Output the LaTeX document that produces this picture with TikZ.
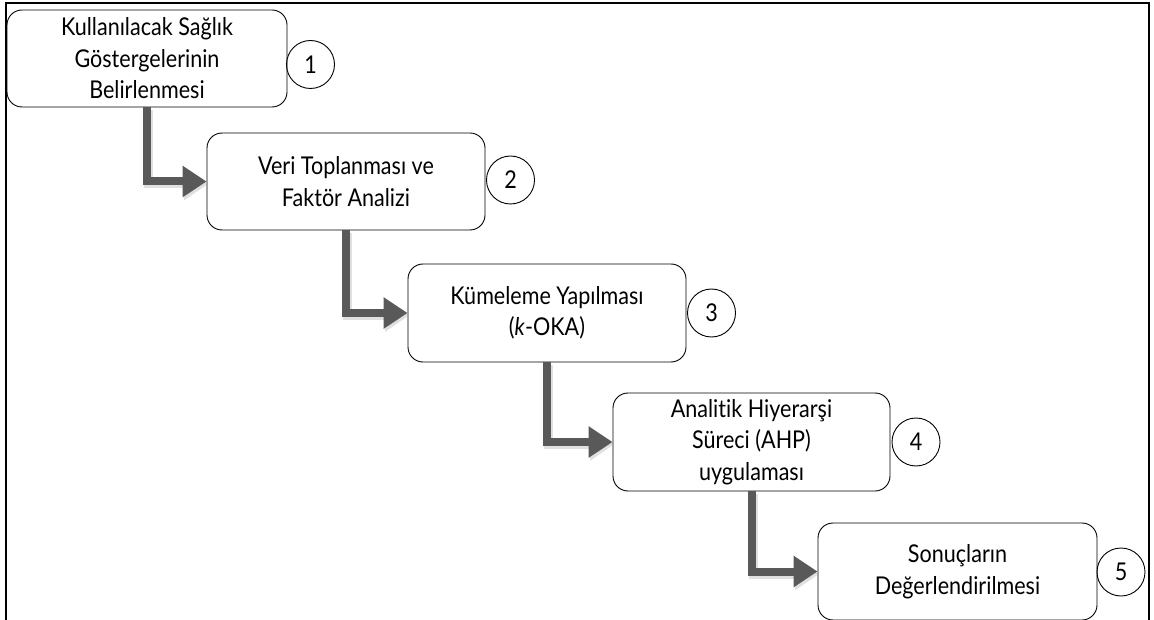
\documentclass[tikz,border=0pt]{standalone}
\usepackage{fontspec}
\setmainfont[FakeStretch=0.88,Ligatures={NoCommon}]{Lato}
\usetikzlibrary{arrows.meta}
\definecolor{arrowgray}{HTML}{595959}
\tikzset{
  stepbox/.style={draw=black, line width=0.9pt, rounded corners=15pt, fill=white,
    minimum width=278pt, minimum height=97pt, align=center, inner sep=2pt,
    font=\fontsize{24.5}{31.5}\selectfont,
    execute at begin node={\rule{0pt}{25pt}}},
  numcirc/.style={draw=black, line width=0.9pt, circle, minimum size=48pt, inner sep=0pt,
    font=\fontsize{24.5}{28}\selectfont},
  flow/.style={draw=arrowgray, line width=8pt,
    -{Triangle[length=24pt,width=30pt]}},
  flowshadow/.style={draw=black!35, opacity=0.35, line width=9pt,
    -{Triangle[length=24pt,width=31pt]}},
  frameline/.style={draw=black, line width=2pt}
}
\begin{document}
\begin{tikzpicture}[x=1pt,y=-1pt]
\useasboundingbox (0,0) rectangle (1154,620);
% frame
\coordinate (fbl) at (6,625);
\coordinate (ftl) at (6,3);
\coordinate (ftr) at (1149,3);
\coordinate (fbr) at (1149,625);
\draw[frameline] (fbl) -- (ftl) -- (ftr) -- (fbr);
% boxes
\node[stepbox, minimum width=280pt] (b1) at (147,58.5) {Kullanılacak Sağlık\\Göstergelerinin\\Belirlenmesi};
\node[stepbox] (b2) at (346,181.5) {Veri Toplanması ve\\Faktör Analizi};
\node[stepbox, minimum height=98pt] (b3) at (547,313) {Kümeleme Yapılması\\(\textit{k}-OKA)};
\node[stepbox, minimum height=98pt, minimum width=277pt] (b4) at (751.5,442) {Analitik Hiyerarşi\\Süreci (AHP)\\uygulaması};
\node[stepbox, minimum width=279pt] (b5) at (957.5,571.5) {Sonuçların\\Değerlendirilmesi};
% numbers
\node[numcirc] (c1) at (310.5,64.5) {1};
\node[numcirc] (c2) at (510.5,180) {2};
\node[numcirc] (c3) at (711.5,313) {3};
\node[numcirc] (c4) at (916,442) {4};
\node[numcirc] (c5) at (1121,572) {5};
% connectors
\foreach \a/\b in {b1/b2,b2/b3,b3/b4,b4/b5}{
  \draw[flowshadow, transform canvas={shift={(1.5pt,-2.5pt)}}] (\a.south) |- (\b.west);
  \draw[flow] (\a.south) |- (\b.west);
}
\end{tikzpicture}
\end{document}
